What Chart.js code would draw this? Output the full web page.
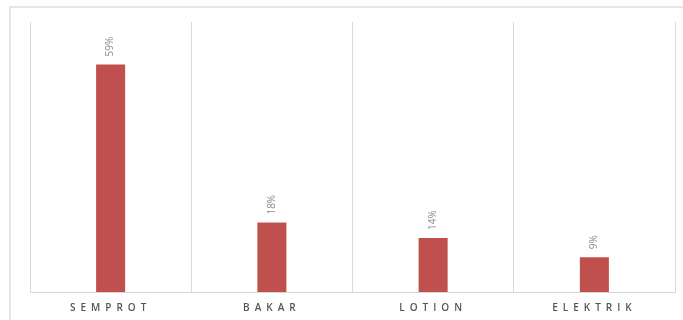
<!DOCTYPE html>
<html>
<head>
    <meta charset="UTF-8">
    <title>Chart</title>
    <script src="https://cdn.jsdelivr.net/npm/chart.js"></script>
    <style>
        body { margin: 0; background: #fff; width: 683px; height: 320px; overflow: hidden; position: relative; font-family: "Open Sans", Arial, sans-serif; }
        #frame { position: absolute; left: 9px; top: 6px; width: 700px; height: 400px; border-top: 2px solid #e6e6e6; border-left: 2px solid #e6e6e6; }
        #wrap { position: absolute; left: 0; top: 0; width: 683px; height: 330px; }
    </style>
</head>
<body>
    <div id="frame"></div>
    <div id="wrap"><canvas id="chart"></canvas></div>

    <script>
        const categories = ['SEMPROT', 'BAKAR', 'LOTION', 'ELEKTRIK'];
        const values = [59, 18, 14, 9];
        const valueLabels = ['59%', '18%', '14%', '9%'];

        // spaced letters for the axis labels, rotated value labels above the bars
        const labelPlugin = {
            id: 'labels',
            beforeDraw(chart) { chart.ctx.letterSpacing = '5px'; },
            afterDatasetsDraw(chart) {
                const ctx = chart.ctx;
                ctx.save();
                ctx.letterSpacing = '0px';
                ctx.font = '10px "Open Sans", Arial, sans-serif';
                ctx.fillStyle = '#8c8c8c';
                ctx.textAlign = 'left';
                ctx.textBaseline = 'middle';
                chart.getDatasetMeta(0).data.forEach((bar, i) => {
                    ctx.save();
                    ctx.translate(bar.x, bar.y - 8);
                    ctx.rotate(-Math.PI / 2);
                    ctx.fillText(valueLabels[i], 0, 0);
                    ctx.restore();
                });
                ctx.restore();
            },
            afterDraw(chart) { chart.ctx.letterSpacing = '0px'; }
        };

        new Chart(document.getElementById('chart'), {
            type: 'bar',
            data: {
                labels: categories,
                datasets: [{
                    data: values,
                    backgroundColor: '#c0504d',
                    categoryPercentage: 1,
                    barPercentage: 0.18
                }]
            },
            options: {
                responsive: true,
                maintainAspectRatio: false,
                animation: false,
                layout: { padding: { left: 30, right: 8, top: 22, bottom: 6 } },
                plugins: { legend: { display: false }, tooltip: { enabled: false } },
                scales: {
                    x: {
                        offset: true,
                        grid: { offset: true, color: '#d9d9d9', drawTicks: false },
                        border: { color: '#d9d9d9' },
                        ticks: { color: '#555555', font: { size: 10, weight: '600', family: '"Open Sans", Arial, sans-serif' }, padding: 10 }
                    },
                    y: { display: false, min: 0, max: 70 }
                }
            },
            plugins: [labelPlugin]
        });
    </script>
</body>
</html>
